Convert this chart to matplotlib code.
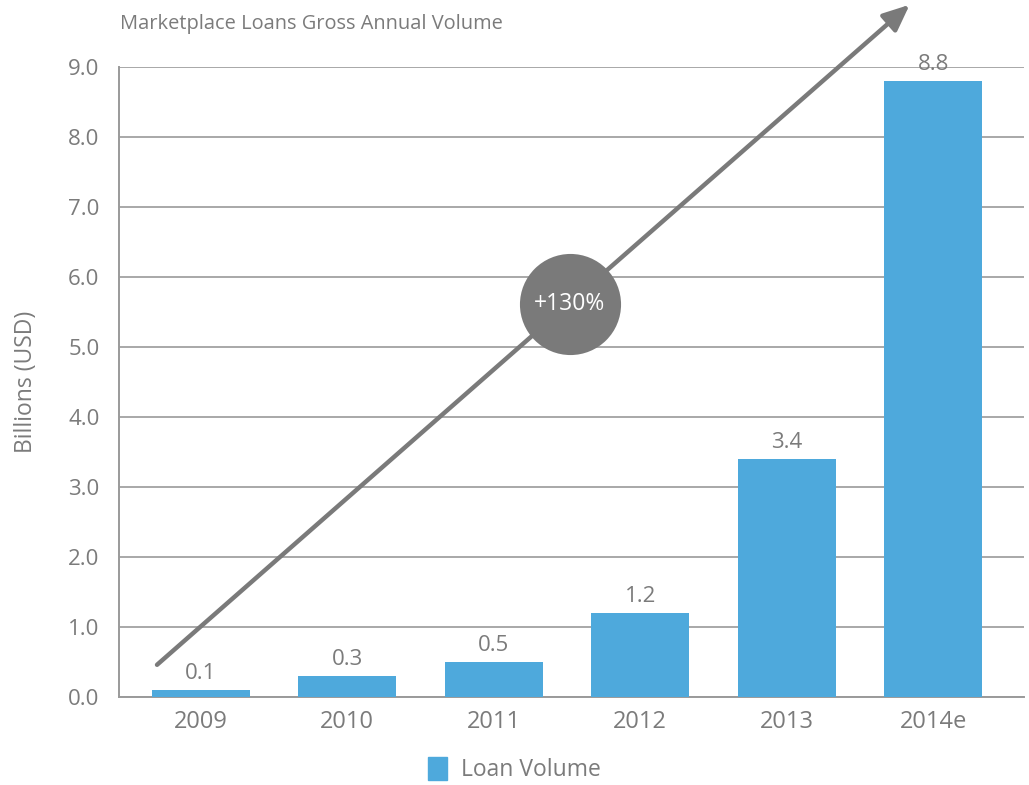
import matplotlib.pyplot as plt
from matplotlib.patches import Patch

plt.rcParams['font.family'] = ['Open Sans', 'DejaVu Sans']

# loan volume per year, billions of USD
years = ['2009', '2010', '2011', '2012', '2013', '2014e']
volume = [0.1, 0.3, 0.5, 1.2, 3.4, 8.8]
value_labels = ['0.1', '0.3', '0.5', '1.2', '3.4', '8.8']
y_ticks = [0, 1, 2, 3, 4, 5, 6, 7, 8, 9]
growth_label = '+130%'

bar_color = '#4ea9dc'
text_gray = '#7b7b7b'
line_gray = '#9a9a9a'
badge_gray = '#7a7a7a'

fig = plt.figure(figsize=(10.29, 7.85), dpi=100)
ax = fig.add_axes([0.1156, 0.1121, 0.8794, 0.8025])

x = list(range(len(years)))
ax.bar(x, volume, width=0.67, color=bar_color, zorder=3)

for xi, v, lab in zip(x, volume, value_labels):
    ax.text(xi, v + 0.08, lab, ha='center', va='bottom',
            fontsize=16, color=text_gray, zorder=4)

ax.set_xlim(-0.56, 5.62)
ax.set_ylim(0, 9)
ax.set_xticks(x)
ax.set_xticklabels(years)
ax.set_yticks(y_ticks)
ax.set_yticklabels([f'{t:.1f}' for t in y_ticks])
ax.tick_params(axis='both', length=0, labelsize=16, labelcolor=text_gray)
ax.tick_params(axis='x', pad=9, labelsize=17)
ax.tick_params(axis='y', pad=14)

ax.grid(axis='y', color=line_gray, linewidth=1.2, zorder=0)
ax.set_axisbelow(True)
for side in ['top', 'right']:
    ax.spines[side].set_visible(False)
for side in ['left', 'bottom']:
    ax.spines[side].set_color(line_gray)
    ax.spines[side].set_linewidth(1.4)

ax.set_ylabel('Billions (USD)', fontsize=16.5, color=text_gray, labelpad=22)

# growth arrow and badge
ax.annotate('', xy=(4.84, 9.89), xytext=(-0.30, 0.46),
            arrowprops=dict(arrowstyle='-|>,head_length=1.6,head_width=0.7',
                            color=badge_gray, lw=3.2, shrinkA=0, shrinkB=0),
            annotation_clip=False, zorder=5)
ax.scatter([2.52], [5.61], s=5300, color=badge_gray, zorder=6, clip_on=False,
           linewidths=0)
ax.text(2.52, 5.61, growth_label, ha='center', va='center', fontsize=16.5,
        color='white', zorder=7)

fig.text(0.1166, 0.970, 'Marketplace Loans Gross Annual Volume',
         fontsize=14.4, color=text_gray, ha='left', va='center')

fig.legend(handles=[Patch(color=bar_color, label='Loan Volume')],
           loc='center', bbox_to_anchor=(0.5, 0.02), frameon=False,
           fontsize=16.5, labelcolor=text_gray, handlelength=0.85,
           handleheight=1.2, handletextpad=0.6)

fig.savefig('out.png', dpi=100)
